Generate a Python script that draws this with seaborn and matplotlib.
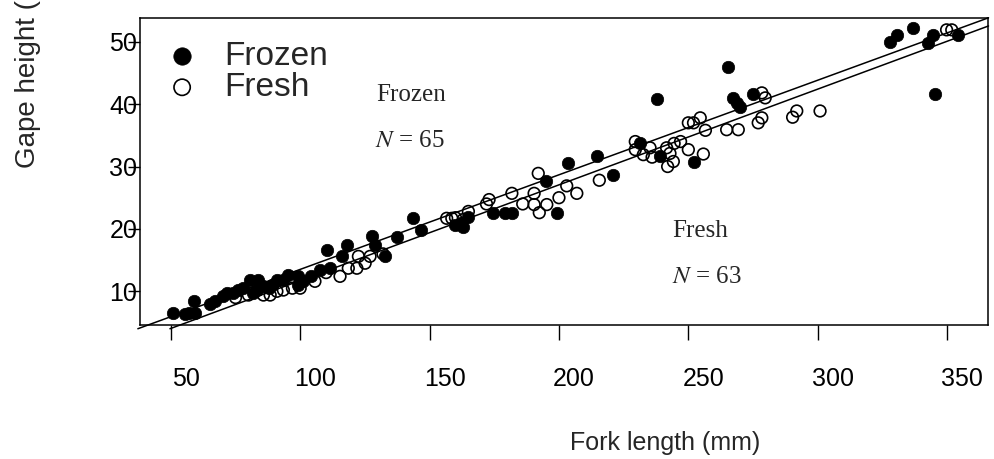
import matplotlib
matplotlib.use("Agg")
import matplotlib.pyplot as plt
import matplotlib.transforms as mtransforms
import numpy as np
import seaborn as sns

sns.set_style("ticks")
plt.rcParams["font.family"] = ["Liberation Sans", "DejaVu Sans"]
plt.rcParams["mathtext.fontset"] = "stix"

# Frozen specimens: fork length (mm), gape height (mm)
frozen_fl = [50.8, 55.5, 57, 59.4, 59, 67, 70, 71.6, 74.2, 76.1, 78, 80.6, 83.8,
             81.9, 83.2, 85.8, 88, 91, 93.5, 95.4, 99.3, 101.2, 99, 107.7, 110.3,
             111.6, 116, 118, 127.7, 129, 132.8, 137.3, 143.7, 146.6, 162, 163,
             165, 174.7, 179.2, 181.8, 195, 199.4, 203.5, 214.6, 221, 231.3,
             237.8, 239, 252, 265.4, 267.4, 268.7, 270, 275, 328, 330.5, 337,
             342.7, 344.7, 345.3, 354.3, 160, 104, 65, 89]
frozen_gh = [6.5, 6.3, 6.5, 6.5, 8.5, 8.5, 9.2, 9.7, 9.7, 10.2, 10.5, 11.8, 11.8,
             9.7, 10.2, 10.8, 10.6, 11.8, 11.8, 12.6, 12.4, 11.6, 11, 13.4, 16.6,
             13.7, 15.6, 17.5, 18.8, 17.5, 15.6, 18.7, 21.7, 19.9, 21, 20.3,
             21.9, 22.6, 22.6, 22.6, 27.6, 22.6, 30.6, 31.7, 28.7, 33.8,
             40.8, 31.7, 30.8, 45.9, 41, 40.2, 39.6, 41.6, 50, 51.1, 52.2,
             49.8, 51, 41.6, 51, 20.6, 12.5, 8, 11]

# Fresh specimens
fresh_fl = [80, 85.8, 88.4, 93.5, 97, 105.7, 115.4, 118.6, 121.9, 122.5, 125.1,
            127, 156.6, 158.6, 165, 173, 181.8, 190.4, 192, 190.4, 192.4, 195.3,
            203, 206.9, 215.6, 229.5, 229.5, 232.6, 235.2, 241.6, 242.9, 244.2,
            244.5, 250, 255.8, 250, 252, 254.6, 256.6, 264.8, 269.3, 277, 278.4,
            278.4, 279.7, 290.3, 291.9, 300.9, 349.8, 351.8, 160, 163, 172, 242,
            236, 75, 91, 100, 110, 132, 200, 186, 247]
fresh_gh = [9.4, 9.4, 9.4, 10.2, 10.5, 11.6, 12.4, 13.7, 13.7, 15.6, 14.5,
            15.6, 21.7, 21.7, 22.8, 24.7, 25.7, 25.7, 28.9, 23.9, 22.6, 23.9,
            26.9, 25.7, 27.8, 34, 32.7, 31.9, 33, 33, 32.1, 30.8,
            33.7, 32.7, 32, 37, 37, 37.8, 35.8, 35.9, 35.9, 37, 37.8,
            41.8, 41, 37.9, 38.9, 38.9, 51.9, 51.9, 21.8, 21.5, 24, 30,
            31.5, 9, 10, 10.5, 13, 16, 25, 24, 34]

# fitted lines (intercept, slope)
frozen_fit = (-1.65, 0.1516)
fresh_fit = (-3.62, 0.1534)

xticks = [50, 100, 150, 200, 250, 300, 350]
yticks = [10, 20, 30, 40, 50]

fig = plt.figure(figsize=(9.95, 4.59), dpi=100)
ax = fig.add_axes([140 / 995, 1 - 325 / 459, 848 / 995, 307 / 459])

sns.scatterplot(x=frozen_fl, y=frozen_gh, ax=ax, marker="o", s=80,
                color="black", edgecolor="black", linewidth=0.5,
                label="Frozen", zorder=3)
sns.scatterplot(x=fresh_fl, y=fresh_gh, ax=ax, marker="o", s=70,
                fc="none", ec="black", linewidth=1.2,
                label="Fresh", zorder=3)

# lines run a little past the bottom of the box, as in the original
y_low = 4.0
for b0, b1 in (frozen_fit, fresh_fit):
    xl = np.array([(y_low - b0) / b1, 366.0])
    ax.plot(xl, b0 + b1 * xl, color="black", lw=1.1, clip_on=False, zorder=2)

ax.set_xlim(38.1, 365.8)
ax.set_ylim(4.6, 53.8)
ax.set_xticks(xticks)
ax.set_yticks(yticks)
ax.set_xlabel("")
ax.set_ylabel("")
for sp in ax.spines.values():
    sp.set_visible(True)
    sp.set_color("black")
    sp.set_linewidth(1.1)
ax.tick_params(axis="x", direction="out", length=11, width=1, pad=19,
               labelsize=18, colors="black")
ax.tick_params(axis="y", direction="out", length=8.5, width=1, pad=-6.5,
               labelsize=18, colors="black")
shift = mtransforms.ScaledTranslation(15 / 100, 0, fig.dpi_scale_trans)
for lab in ax.get_xticklabels():
    lab.set_transform(lab.get_transform() + shift)

leg = ax.legend(loc="upper left", bbox_to_anchor=(0.031, 0.925), frameon=False,
                fontsize=24, markerscale=1.4, handlelength=0.95,
                handletextpad=0.8, labelspacing=0.0, borderpad=0,
                borderaxespad=0)

serif = ["Liberation Serif", "DejaVu Serif"]
ax.text(0.279, 0.729, "Frozen", transform=ax.transAxes, fontsize=18,
        family=serif, va="baseline")
ax.text(0.277, 0.581, "$N$ = 65", transform=ax.transAxes, fontsize=18,
        family=serif, va="baseline")
ax.text(0.628, 0.286, "Fresh", transform=ax.transAxes, fontsize=18,
        family=serif, va="baseline")
ax.text(0.627, 0.138, "$N$ = 63", transform=ax.transAxes, fontsize=18,
        family=serif, va="baseline")

fig.text(0.668, 1 - 443 / 459, "Fork length (mm)", ha="center", va="center",
         fontsize=18)
fig.text(28 / 995, 1 - 168 / 459, "Gape height (mm)", rotation=90,
         ha="center", va="bottom", fontsize=20)

fig.savefig("out.png", dpi=100)
